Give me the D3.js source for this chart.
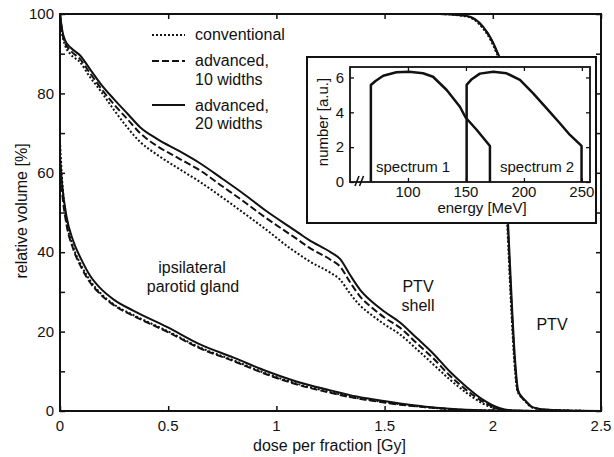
<!DOCTYPE html>
<html lang="en">
<head>
  <meta charset="UTF-8">
  <title>DVH with inset spectra</title>
  <script src="https://d3js.org/d3.v7.min.js"></script>
  <style>
    body { margin: 0; background: #fff; }
    text { font-family: "Liberation Sans", Arial, sans-serif; fill: #111; }
    .tick-label { font-size: 15px; }
    .axis-label { font-size: 16px; }
    .curve { fill: none; stroke: #111; stroke-width: 2; }
    .frame { fill: none; stroke: #111; stroke-width: 2; }
  </style>
</head>
<body>
  <div id="chart"></div>
  <script>
    // dose [Gy] / relative volume [%]
    const ptvShellSolid = [[0,100],[0.01,96],[0.023,93.4],[0.05,91.5],[0.092,89.6],[0.14,86],[0.185,82.6],[0.25,78.5],[0.31,75],[0.37,71.5],[0.45,68.5],[0.55,65.5],[0.647,62.4],[0.75,58.5],[0.846,54.8],[0.95,50.5],[1.063,46.3],[1.109,44.6],[1.15,43.1],[1.25,40],[1.294,38.3],[1.34,34.3],[1.386,30.6],[1.442,27.5],[1.5,25],[1.571,22.3],[1.65,18.3],[1.724,14.5],[1.8,10],[1.88,6],[1.95,3],[2.033,0.7],[2.1,0.1],[2.2,0]];
    const ptvShellDashed = [[0,100],[0.01,95.5],[0.023,92.8],[0.05,90.7],[0.092,88.7],[0.14,85],[0.185,81.6],[0.25,77.2],[0.31,73.6],[0.37,70],[0.45,66.7],[0.55,63.6],[0.647,60.6],[0.75,56.6],[0.846,52.9],[0.95,48.7],[1.063,44.5],[1.109,42.8],[1.15,41.2],[1.25,38.1],[1.294,36.4],[1.34,32.5],[1.386,28.9],[1.442,26],[1.5,23.5],[1.571,21],[1.65,17],[1.724,13.3],[1.8,9],[1.88,5.2],[1.95,2.5],[2.033,0.5],[2.1,0.1],[2.2,0]];
    const ptvShellDotted = [[0,100],[0.01,95],[0.023,92.2],[0.05,89.8],[0.092,87.9],[0.14,84],[0.185,80.8],[0.25,75.8],[0.31,71.5],[0.37,67.8],[0.45,64.5],[0.55,61],[0.647,57.7],[0.75,53.8],[0.846,50],[0.95,45.8],[1.063,41],[1.109,39.3],[1.15,37.8],[1.25,34.8],[1.294,33.1],[1.34,29.6],[1.386,26.6],[1.442,24.1],[1.5,21.8],[1.571,19.3],[1.65,15.5],[1.724,11.8],[1.8,8],[1.88,4.5],[1.95,2],[2.033,0.4],[2.1,0.1],[2.2,0]];

    const parotidSolid = [[0,64],[0.01,57],[0.03,49],[0.06,43],[0.1,38],[0.14,34],[0.185,31],[0.25,28],[0.338,25.3],[0.494,21.2],[0.647,16.8],[0.8,13.5],[0.956,10],[1.1,7.3],[1.25,5.2],[1.34,4],[1.417,3.2],[1.571,1.9],[1.725,0.9],[1.85,0.4],[2.0,0.1],[2.1,0]];
    const parotidDashed = [[0,62],[0.01,55],[0.03,47],[0.06,41],[0.1,36],[0.14,32.3],[0.185,29.5],[0.25,26.6],[0.338,24],[0.494,20],[0.647,15.8],[0.8,12.6],[0.956,9.2],[1.1,6.6],[1.25,4.6],[1.34,3.5],[1.417,2.8],[1.571,1.6],[1.725,0.8],[1.85,0.3],[2.0,0.1],[2.1,0]];
    const parotidDotted = [[0,68],[0.01,58],[0.03,48],[0.06,41.5],[0.1,36.5],[0.14,32.8],[0.185,29.8],[0.25,26.8],[0.338,24.2],[0.494,20.2],[0.647,16],[0.8,12.8],[0.956,9.4],[1.1,6.8],[1.25,4.8],[1.34,3.6],[1.417,2.9],[1.571,1.7],[1.725,0.8],[1.85,0.3],[2.0,0.1],[2.1,0]];

    const ptvSolid = [[0,100],[1.75,100],[1.85,99.7],[1.895,99.3],[1.955,96.8],[1.996,93.4],[2.02,90.5],[2.033,88.5],[2.05,70],[2.07,48],[2.09,25],[2.103,12.8],[2.117,5.2],[2.135,3.5],[2.149,2.7],[2.186,0.9],[2.25,0.3],[2.4,0.05],[2.5,0]];
    const ptvDashed = [[0,100],[1.75,100],[1.85,99.7],[1.893,99.3],[1.953,96.8],[1.994,93.4],[2.018,90.5],[2.031,88.5],[2.048,70],[2.068,48],[2.088,25],[2.101,12.8],[2.115,5.2],[2.133,3.5],[2.147,2.7],[2.184,0.9],[2.25,0.3],[2.4,0.05],[2.5,0]];
    const ptvDotted = [[0,100],[1.75,100],[1.85,99.6],[1.891,99.2],[1.951,96.6],[1.992,93.2],[2.016,90.3],[2.029,88.3],[2.046,70],[2.066,48],[2.086,25],[2.099,12.8],[2.113,5.2],[2.131,3.5],[2.145,2.7],[2.182,0.9],[2.25,0.3],[2.4,0.05],[2.5,0]];

    const xTicks = [0, 0.5, 1, 1.5, 2, 2.5];
    const yTicks = [0, 10, 20, 30, 40, 50, 60, 70, 80, 90, 100];
    const yTickLabels = [0, 20, 40, 60, 80, 100];

    // inset: energy [MeV] / number [a.u.]
    const spectrum1 = [[68,0],[68,5.57],[72,5.8],[78.7,6.1],[90,6.3],[101,6.33],[113,6.24],[121.6,6.04],[133.4,5.28],[144.8,4.32],[149.7,3.7],[159.2,3.0],[170.7,2.07],[170.7,0]];
    const spectrum2 = [[150.6,0],[150.6,5.57],[155,5.9],[162,6.22],[173.5,6.33],[185,6.24],[196.6,5.86],[208,5.09],[219.6,4.23],[231,3.37],[239.7,2.7],[249.7,2.07],[249.7,0]];
    const insetXTicks = [100, 150, 200, 250];
    const insetYTicks = [0, 2, 4, 6];

    const W = 614, H = 457;
    const margin = { top: 14, right: 13, bottom: 46, left: 60 },
          width = W - margin.left - margin.right,
          height = H - margin.top - margin.bottom;

    const svg = d3.select("#chart").append("svg")
      .attr("width", W).attr("height", H);

    const g = svg.append("g")
      .attr("transform", `translate(${margin.left},${margin.top})`);

    const x = d3.scaleLinear().domain([0, 2.5]).range([0, width]);
    const y = d3.scaleLinear().domain([0, 100]).range([height, 0]);

    const line = d3.line()
      .x(d => x(d[0])).y(d => y(d[1]))
      .curve(d3.curveMonotoneX);

    const styles = {
      dotted: "2,2",
      dashed: "7,3",
      solid: null
    };

    const curves = [
      [ptvShellDotted, "dotted"], [ptvShellDashed, "dashed"], [ptvShellSolid, "solid"],
      [parotidDotted, "dotted"], [parotidDashed, "dashed"], [parotidSolid, "solid"],
      [ptvDotted, "dotted"], [ptvDashed, "dashed"], [ptvSolid, "solid"]
    ];

    g.selectAll(".curve")
      .data(curves)
      .enter()
      .append("path")
      .attr("class", "curve")
      .attr("d", d => line(d[0]))
      .attr("stroke-dasharray", d => styles[d[1]]);

    // ticks, matlab style: inward on all four sides
    g.append("g").call(d3.axisBottom(x).tickValues(xTicks).tickSize(-5).tickFormat(""))
      .attr("transform", `translate(0,${height})`);
    g.append("g").call(d3.axisTop(x).tickValues(xTicks).tickSize(-5).tickFormat(""));
    g.append("g").call(d3.axisLeft(y).tickValues(yTicks).tickSize(-5).tickFormat(""));
    g.append("g").call(d3.axisRight(y).tickValues(yTicks).tickSize(-5).tickFormat(""))
      .attr("transform", `translate(${width},0)`);
    g.selectAll(".domain").remove();
    g.selectAll(".tick line").attr("stroke", "#111").attr("stroke-width", 1.5);

    g.append("rect").attr("class", "frame")
      .attr("width", width).attr("height", height);

    g.selectAll(".xlab")
      .data(xTicks).enter().append("text")
      .attr("class", "tick-label")
      .attr("x", d => x(d)).attr("y", height + 20)
      .attr("text-anchor", "middle")
      .text(d => d);

    g.selectAll(".ylab")
      .data(yTickLabels).enter().append("text")
      .attr("class", "tick-label")
      .attr("x", -6).attr("y", d => y(d)).attr("dy", "0.35em")
      .attr("text-anchor", "end")
      .text(d => d);

    svg.append("text").attr("class", "axis-label")
      .attr("x", margin.left + width / 2 - 1).attr("y", 451)
      .attr("text-anchor", "middle")
      .text("dose per fraction [Gy]");

    svg.append("text").attr("class", "axis-label")
      .attr("transform", "translate(27,211) rotate(-90)")
      .attr("text-anchor", "middle")
      .text("relative volume [%]");

    // legend
    const legend = svg.append("g");
    const legRows = [
      { y: 35, style: "dotted", lines: ["conventional"], base: [40] },
      { y: 61, style: "dashed", lines: ["advanced,", "10 widths"], base: [66, 84.5] },
      { y: 105, style: "solid", lines: ["advanced,", "20 widths"], base: [110.5, 129] }
    ];
    legRows.forEach(r => {
      legend.append("line")
        .attr("x1", 152).attr("x2", 185).attr("y1", r.y).attr("y2", r.y)
        .attr("stroke", "#111").attr("stroke-width", 2.2)
        .attr("stroke-dasharray", styles[r.style]);
      r.lines.forEach((t, j) => {
        legend.append("text").attr("class", "axis-label")
          .attr("x", 195).attr("y", r.base[j]).text(t);
      });
    });

    // annotations
    const notes = [
      { t: "ipsilateral", x: 192, y: 273 },
      { t: "parotid gland", x: 193, y: 292 },
      { t: "PTV", x: 418, y: 292 },
      { t: "shell", x: 418, y: 311 },
      { t: "PTV", x: 552, y: 330 }
    ];
    svg.selectAll(".note").data(notes).enter().append("text")
      .attr("class", "axis-label")
      .attr("x", d => d.x).attr("y", d => d.y)
      .attr("text-anchor", "middle")
      .text(d => d.t);

    // inset
    svg.append("rect")
      .attr("x", 307).attr("y", 57).attr("width", 289).attr("height", 166)
      .attr("fill", "#fff").attr("stroke", "#111").attr("stroke-width", 2);

    const ix0 = 350, ix1 = 590, iy0 = 67, iy1 = 182;
    const ix = d3.scaleLinear().domain([50, 257]).range([ix0, ix1]);
    const iy = d3.scaleLinear().domain([0, 6.6]).range([iy1, iy0]);
    const ig = svg.append("g");

    const iline = d3.line().x(d => ix(d[0])).y(d => iy(d[1]));
    ig.selectAll(".spec").data([spectrum1, spectrum2]).enter().append("path")
      .attr("d", iline)
      .attr("fill", "none").attr("stroke", "#111").attr("stroke-width", 2.5)
      .attr("stroke-linejoin", "round");

    ig.append("g").attr("transform", `translate(0,${iy1})`)
      .call(d3.axisBottom(ix).tickValues(insetXTicks).tickSize(-4).tickFormat(""));
    ig.append("g").attr("transform", `translate(0,${iy0})`)
      .call(d3.axisTop(ix).tickValues(insetXTicks).tickSize(-4).tickFormat(""));
    ig.append("g").attr("transform", `translate(${ix0},0)`)
      .call(d3.axisLeft(iy).tickValues(insetYTicks).tickSize(-4).tickFormat(""));
    ig.append("g").attr("transform", `translate(${ix1},0)`)
      .call(d3.axisRight(iy).tickValues(insetYTicks).tickSize(-4).tickFormat(""));
    ig.selectAll(".domain").remove();
    ig.selectAll(".tick line").attr("stroke", "#111").attr("stroke-width", 1.3);

    ig.append("rect")
      .attr("x", ix0).attr("y", iy0).attr("width", ix1 - ix0).attr("height", iy1 - iy0)
      .attr("fill", "none").attr("stroke", "#111").attr("stroke-width", 1.8);

    // axis break
    [355, 359.5].forEach(bx => {
      ig.append("line")
        .attr("x1", bx).attr("y1", iy1 + 4).attr("x2", bx + 4).attr("y2", iy1 - 6)
        .attr("stroke", "#111").attr("stroke-width", 1.6);
    });

    ig.selectAll(".ixlab").data(insetXTicks).enter().append("text")
      .attr("class", "tick-label")
      .attr("x", d => ix(d)).attr("y", 197)
      .attr("text-anchor", "middle").text(d => d);
    ig.selectAll(".iylab").data(insetYTicks).enter().append("text")
      .attr("class", "tick-label")
      .attr("x", 344).attr("y", d => iy(d)).attr("dy", "0.35em")
      .attr("text-anchor", "end").text(d => d);

    ig.append("text").attr("class", "tick-label")
      .attr("x", 482).attr("y", 213).attr("text-anchor", "middle")
      .text("energy [MeV]");
    ig.append("text").attr("class", "tick-label")
      .attr("transform", "translate(328,122) rotate(-90)")
      .attr("text-anchor", "middle")
      .text("number [a.u.]");

    ig.append("text").attr("class", "tick-label")
      .attr("x", 376).attr("y", 172).text("spectrum 1");
    ig.append("text").attr("class", "tick-label")
      .attr("x", 500).attr("y", 172).text("spectrum 2");
  </script>
</body>
</html>
